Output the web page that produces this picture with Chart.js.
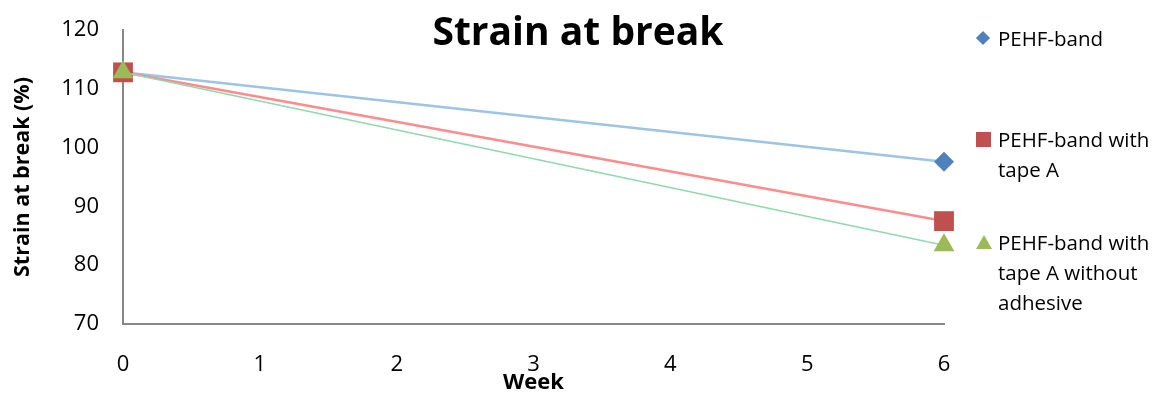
<!DOCTYPE html>
<html>
<head>
<meta charset="utf-8">
<script src="https://cdn.jsdelivr.net/npm/chart.js@4/dist/chart.umd.min.js"></script>
<style>
    html, body { margin: 0; padding: 0; background: #fff; }
    #wrap { position: relative; width: 1162px; height: 394px; font-family: 'Open Sans', sans-serif; }
    #title { position: absolute; left: 0; width: 1156px; top: 6px; text-align: center; font-weight: 700; font-size: 39px; line-height: 48px; color: #000; }
    .leg { position: absolute; left: 998px; font-size: 20.5px; line-height: 30px; color: #000; }
    .mk { position: absolute; }
</style>
</head>
<body>
<div id="wrap">
    <canvas id="chart" width="1162" height="394"></canvas>
    <div id="title">Strain at break</div>
    <div id="legend"></div>
</div>
<script>
// datos
const weeks = [0, 6];
const xTicks = [0, 1, 2, 3, 4, 5, 6];
const yTicks = [70, 80, 90, 100, 110, 120];
const seriesNames = ['PEHF-band', 'PEHF-band with tape A', 'PEHF-band with tape A without adhesive'];
const bandValues = [112.8, 97.6];
const tapeAValues = [112.8, 87.5];
const noAdhesiveValues = [112.8, 83.4];

const markerColors = ['#4F81BD', '#C0504D', '#9BBB59'];
const lineColors = ['#9DC3E6', '#FF8C8C', '#92D8AE'];

function toPoints(vals) {
    return weeks.map((w, i) => ({ x: w, y: vals[i] }));
}

const ctx = document.getElementById('chart').getContext('2d');
new Chart(ctx, {
    type: 'line',
    data: {
        datasets: [
            {
                label: seriesNames[0],
                data: toPoints(bandValues),
                borderColor: lineColors[0],
                borderWidth: 2.5,
                pointStyle: 'rectRot',
                pointRadius: 10,
                pointBackgroundColor: markerColors[0],
                pointBorderWidth: 0,
                clip: false,
                order: 3
            },
            {
                label: seriesNames[1],
                data: toPoints(tapeAValues),
                borderColor: lineColors[1],
                borderWidth: 2.5,
                pointStyle: 'rect',
                pointRadius: 14,
                pointBackgroundColor: markerColors[1],
                pointBorderWidth: 0,
                clip: false,
                order: 2
            },
            {
                label: seriesNames[2],
                data: toPoints(noAdhesiveValues),
                borderColor: lineColors[2],
                borderWidth: 1.5,
                pointStyle: 'triangle',
                pointRadius: 12,
                pointBackgroundColor: markerColors[2],
                pointBorderWidth: 0,
                clip: false,
                order: 1
            }
        ]
    },
    options: {
        responsive: false,
        animation: false,
        layout: { padding: { top: 30, right: 218, left: 0, bottom: 0 } },
        plugins: { legend: { display: false }, tooltip: { enabled: false }, title: { display: false } },
        scales: {
            x: {
                type: 'linear',
                min: 0,
                max: 6,
                afterBuildTicks: s => { s.ticks = xTicks.map(v => ({ value: v })); },
                afterFit: s => { s.height = 70; },
                grid: { display: false, drawTicks: false },
                border: { display: true, color: '#878787', width: 2 },
                ticks: { color: '#000', padding: 28, font: { family: 'Open Sans', size: 22 } },
                title: { display: true, text: 'Week', color: '#000', padding: { top: 0, bottom: -2 }, font: { family: 'Open Sans', size: 22, weight: 'bold' } }
            },
            y: {
                min: 70,
                max: 120,
                afterBuildTicks: s => { s.ticks = yTicks.map(v => ({ value: v })); },
                afterFit: s => { s.width = 123; s.paddingTop = 0; s.paddingBottom = 0; },
                grid: { display: false, drawTicks: false },
                border: { display: true, color: '#878787', width: 2 },
                ticks: { color: '#000', padding: 24, font: { family: 'Open Sans', size: 22 } },
                title: { display: true, text: 'Strain at break (%)', color: '#000', padding: { top: 10, bottom: 0 }, font: { family: 'Open Sans', size: 21.5, weight: 'bold' } }
            }
        }
    }
});

// leyenda a la derecha
const legendItems = [
    { lines: ['PEHF-band'], top: 23, markTop: 38 },
    { lines: ['PEHF-band with', 'tape A'], top: 124, markTop: 139 },
    { lines: ['PEHF-band with', 'tape A without', 'adhesive'], top: 227, markTop: 242 }
];
const legendEl = document.getElementById('legend');
legendEl.innerHTML = legendItems.map((it, i) => {
    let mark;
    if (i === 0) {
        mark = `<div class="mk" style="left:${978}px; top:${it.markTop - 5}px; width:10px; height:10px; background:${markerColors[0]}; transform:rotate(45deg);"></div>`;
    } else if (i === 1) {
        mark = `<div class="mk" style="left:${976}px; top:${it.markTop - 7}px; width:15px; height:15px; background:${markerColors[1]};"></div>`;
    } else {
        mark = `<div class="mk" style="left:${976}px; top:${it.markTop - 7}px; width:0; height:0; border-left:8px solid transparent; border-right:8px solid transparent; border-bottom:14px solid ${markerColors[2]};"></div>`;
    }
    return mark + `<div class="leg" style="top:${it.top}px;">${it.lines.join('<br>')}</div>`;
}).join('');
</script>
</body>
</html>
